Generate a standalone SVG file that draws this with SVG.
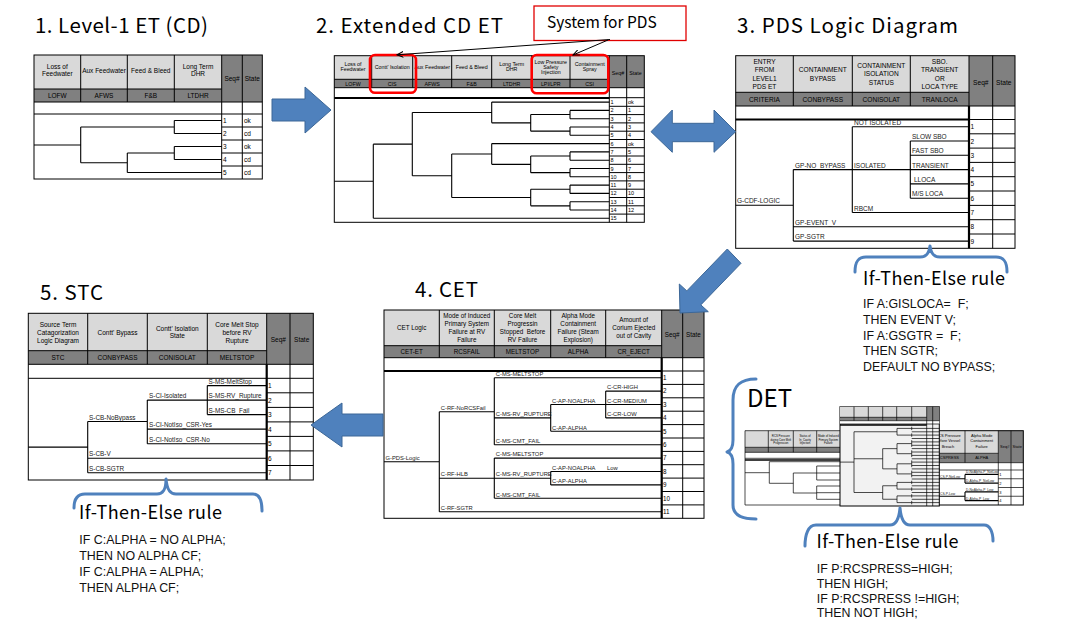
<svg xmlns="http://www.w3.org/2000/svg" width="1065" height="631" viewBox="0 0 1065 631">
<style>
.ln{stroke:#000;stroke-width:1;fill:none}
.tn{stroke:#000;stroke-width:0.7;fill:none}
.tk{stroke:#000;stroke-width:2.2;fill:none}
.tr{stroke:#000;stroke-width:1.1;fill:none}
.hl{fill:#d9d9d9}
.hd{fill:#808080}
.tt{font-family:"Liberation Sans",Arial,sans-serif;fill:#000}
.c{text-anchor:middle}
.lb{font-family:"Liberation Sans",Arial,sans-serif;fill:#1a1a1a}
.ttl{font-family:"Noto Sans CJK KR","Noto Sans",sans-serif;fill:#000}
.rule{font-family:"Liberation Sans",Arial,sans-serif;font-size:12.4px;fill:#111;white-space:pre}
.rt{font-family:"Noto Sans CJK KR","Noto Sans",sans-serif;font-size:18px;fill:#000}
.blk{fill:#4f81bd;stroke:#3c6797;stroke-width:1}
.brace{fill:none;stroke:#4f81bd;stroke-width:3;stroke-linecap:round;stroke-linejoin:round}
</style>
<defs>
<marker id="ah" viewBox="0 0 10 10" refX="9" refY="5" markerWidth="7" markerHeight="7" orient="auto"><path d="M0,1 L9,5 L0,9" fill="none" stroke="#000" stroke-width="1.5"/></marker>
</defs>

<!-- titles -->
<g id="titles">
<text class="ttl" x="35" y="33" font-size="20.5" textLength="173">1. Level-1 ET (CD)</text>
<text class="ttl" x="316" y="33" font-size="20.5" textLength="187">2. Extended CD ET</text>
<text class="ttl" x="737" y="33" font-size="20.5" textLength="221">3. PDS Logic Diagram</text>
<text class="ttl" x="40" y="300" font-size="20.5" textLength="63">5. STC</text>
<text class="ttl" x="415" y="297" font-size="20.5" textLength="63">4. CET</text>
</g>

<!-- System for PDS callout -->
<g id="callout">
<rect x="534" y="6" width="152" height="34.5" fill="#fff" stroke="#e00000" stroke-width="1.3"/>
<text class="ttl" x="547" y="28" font-size="15.5">System for PDS</text>
</g>

<!-- Panel 1 -->
<g id="panel1">
<rect x="34" y="55" width="187.7" height="34" class="hl"/>
<rect x="34" y="89" width="187.7" height="13" class="hd"/>
<rect x="221.7" y="55" width="40.6" height="47" class="hd"/>
<rect x="34" y="55" width="228.3" height="124" class="ln"/>
<path class="ln" d="M80.7 55V102M127.3 55V102M174.3 55V102M221.7 55V179M242.3 55V179M34 89H221.7M34 102H262.3M34 114H262.3M221.7 127H262.3M221.7 140H262.3M221.7 153H262.3M221.7 166H262.3"/>
<path class="tr" d="M34 145H80.7M80.7 127V162.75M80.7 127H174.3M174.3 120.5V133.5M174.3 120.5H221.7M174.3 133.5H221.7M80.7 162.75H127.3M127.3 153V172.5M127.3 153H174.3M174.3 146.5V159.5M174.3 146.5H221.7M174.3 159.5H221.7M127.3 172.5H221.7"/>
<g class="tt c" font-size="6.5">
<text x="57.3" y="69">Loss of</text><text x="57.3" y="76">Feedwater</text>
<text x="104" y="73">Aux Feedwater</text>
<text x="150.8" y="73">Feed &amp; Bleed</text>
<text x="198" y="69">Long Term</text><text x="198" y="76">DHR</text>
<text x="57.3" y="98">LOFW</text><text x="104" y="98">AFWS</text><text x="150.8" y="98">F&amp;B</text><text x="198" y="98">LTDHR</text>
<text x="232" y="81">Seq#</text><text x="252.3" y="81">State</text>
</g>
<g class="tt" font-size="6.5">
<text x="223" y="122.8">1</text><text x="223" y="135.8">2</text><text x="223" y="148.8">3</text><text x="223" y="161.8">4</text><text x="223" y="174.8">5</text>
<text x="244" y="122.8">ok</text><text x="244" y="135.8">cd</text><text x="244" y="148.8">ok</text><text x="244" y="161.8">cd</text><text x="244" y="174.8">cd</text>
</g>
</g>

<!-- Panel 2 -->
<g id="panel2">
<rect x="334.3" y="55.7" width="275" height="23.6" class="hl"/>
<rect x="334.3" y="79.3" width="275" height="8.4" class="hd"/>
<rect x="609.3" y="55.7" width="35" height="32" class="hd"/>
<rect x="334.3" y="55.7" width="310" height="166.6" class="ln"/>
<path class="ln" d="M371.7 55.7V87.7M412.7 55.7V87.7M451.7 55.7V87.7M491.7 55.7V87.7M531.7 55.7V87.7M570 55.7V87.7M609.3 55.7V222.3M626.7 55.7V222.3M334.3 79.3H609.3M334.3 87.7H644.3M609.3 97.7H644.3M609.3 106.3H644.3M609.3 114.6H644.3M609.3 122.9H644.3M609.3 131.2H644.3M609.3 139.5H644.3M609.3 147.7H644.3M609.3 156H644.3M609.3 164.3H644.3M609.3 172.6H644.3M609.3 180.9H644.3M609.3 189.2H644.3M609.3 197.5H644.3M609.3 205.8H644.3M609.3 214.1H644.3"/>
<path class="tk" d="M334.3 98H609.3"/>
<path class="tr" d="M334.3 181.2H373.3M373.3 144.15V218.3M373.3 218.3H609.3M373.3 144.15H412.3M412.3 112.5V175.8M412.3 112.5H491.7M491.7 102.1V122.85M491.7 102.1H609.3M491.7 122.85H530.7M530.7 114.55V131.15M530.7 114.55H570M570 110.4V118.7M570 110.4H609.3M570 118.7H609.3M530.7 131.15H570M570 127V135.3M570 127H609.3M570 135.3H609.3M412.3 175.8H451.7M451.7 154V197.55M451.7 154H491.7M491.7 143.6V164.35M491.7 143.6H609.3M491.7 164.35H530.7M530.7 156.05V172.65M530.7 156.05H570M570 151.9V160.2M570 151.9H609.3M570 160.2H609.3M530.7 172.65H570M570 168.5V176.8M570 168.5H609.3M570 176.8H609.3M451.7 197.55H530.7M530.7 189.25V205.85M530.7 189.25H570M570 185.1V193.4M570 185.1H609.3M570 193.4H609.3M530.7 205.85H570M570 201.7V210M570 201.7H609.3M570 210H609.3"/>
<g class="tt c" font-size="5.3">
<text x="353" y="65.5">Loss of</text><text x="353" y="71">Feedwater</text>
<text x="392.2" y="68.5">Contt' Isolation</text>
<text x="432.2" y="68.5">Aux Feedwater</text>
<text x="471.7" y="68.5">Feed &amp; Bleed</text>
<text x="511.7" y="65.5">Long Term</text><text x="511.7" y="71">DHR</text>
<text x="550.8" y="63.5">Low Pressure</text><text x="550.8" y="68.5">Safety</text><text x="550.8" y="73.5">Injection</text>
<text x="589.7" y="65.5">Containment</text><text x="589.7" y="71">Spray</text>
<text x="618" y="74.5">Seq#</text><text x="635.5" y="74.5">State</text>
<text x="353" y="85.5">LOFW</text><text x="392.2" y="85.5">CIS</text><text x="432.2" y="85.5">AFWS</text><text x="471.7" y="85.5">F&amp;B</text><text x="511.7" y="85.5">LTDHR</text><text x="550.8" y="85.5">LPI/LPR</text><text x="589.7" y="85.5">CSI</text>
</g>
<g class="tt" font-size="5.5">
<text x="610.5" y="104.1">1</text><text x="610.5" y="112.4">2</text><text x="610.5" y="120.7">3</text><text x="610.5" y="129">4</text><text x="610.5" y="137.3">5</text><text x="610.5" y="145.6">6</text><text x="610.5" y="153.9">7</text><text x="610.5" y="162.2">8</text><text x="610.5" y="170.5">9</text><text x="610.5" y="178.8">10</text><text x="610.5" y="187.1">11</text><text x="610.5" y="195.4">12</text><text x="610.5" y="203.7">13</text><text x="610.5" y="212">14</text><text x="610.5" y="220.3">15</text>
<text x="628" y="104.1">ok</text><text x="628" y="112.4">1</text><text x="628" y="120.7">2</text><text x="628" y="129">3</text><text x="628" y="137.3">4</text><text x="628" y="145.6">ok</text><text x="628" y="153.9">5</text><text x="628" y="162.2">6</text><text x="628" y="170.5">7</text><text x="628" y="178.8">8</text><text x="628" y="187.1">9</text><text x="628" y="195.4">10</text><text x="628" y="203.7">11</text><text x="628" y="212">12</text>
</g>
<rect x="370" y="55" width="46" height="37.7" rx="5" fill="none" stroke="#ff0000" stroke-width="2.6"/>
<rect x="531.7" y="55" width="76.6" height="38.3" rx="5" fill="none" stroke="#ff0000" stroke-width="2.6"/>
</g>

<!-- Panel 3 -->
<g id="panel3">
<rect x="735.7" y="55.7" width="233.3" height="36.6" class="hl"/>
<rect x="735.7" y="92.3" width="233.3" height="13.7" class="hd"/>
<rect x="969" y="55.7" width="46" height="50.3" class="hd"/>
<rect x="735.7" y="55.7" width="279.3" height="192.6" class="ln"/>
<path class="ln" d="M793.3 55.7V106M852.3 55.7V106M910.3 55.7V106M969 55.7V106M992.7 55.7V248.3M735.7 92.3H969M735.7 106H1015M969 119.5H1015M969 133.8H1015M969 148.1H1015M969 162.4H1015M969 176.7H1015M969 191H1015M969 205.4H1015M969 219.7H1015M969 234H1015"/>
<path class="tk" d="M735.7 119.5H969M969 106V248.3"/>
<path class="tr" d="M735.7 205.3H793.3M793.3 169.6V241.1M793.3 169.6H852.3M852.3 126.7V212.5M852.3 126.7H969M852.3 169.6H910.3M910.3 141V198.2M910.3 141H969M910.3 155.3H969M910.3 169.6H969M910.3 183.9H969M910.3 198.2H969M852.3 212.5H969M793.3 226.8H969M793.3 241.1H969"/>
<g class="tt c" font-size="6.6">
<text x="764.5" y="64">ENTRY</text><text x="764.5" y="72.3">FROM</text><text x="764.5" y="80.6">LEVEL1</text><text x="764.5" y="89">PDS ET</text>
<text x="822.8" y="72.3">CONTAINMENT</text><text x="822.8" y="80.6">BYPASS</text>
<text x="881.3" y="68">CONTAINMENT</text><text x="881.3" y="76.3">ISOLATION</text><text x="881.3" y="84.6">STATUS</text>
<text x="939.7" y="64">SBO.</text><text x="939.7" y="72.3">TRANSIENT</text><text x="939.7" y="80.6">OR</text><text x="939.7" y="89">LOCA TYPE</text>
<text x="980.8" y="84.5">Seq#</text><text x="1003.8" y="84.5">State</text>
<text x="764.5" y="101.6">CRITERIA</text><text x="822.8" y="101.6">CONBYPASS</text><text x="881.3" y="101.6">CONISOLAT</text><text x="939.7" y="101.6">TRANLOCA</text>
</g>
<g class="lb" font-size="6.5">
<text x="737" y="203.3">G-CDF-LOGIC</text>
<text x="795" y="167.6">GP-NO_BYPASS</text>
<text x="854" y="124.9">NOT ISOLATED</text>
<text x="854" y="167.6">ISOLATED</text>
<text x="912" y="139">SLOW SBO</text>
<text x="912" y="153.3">FAST SBO</text>
<text x="912" y="167.6">TRANSIENT</text>
<text x="914" y="181.9">LLOCA</text>
<text x="912" y="196.2">M/S LOCA</text>
<text x="854" y="210.5">RBCM</text>
<text x="795" y="224.8">GP-EVENT_V</text>
<text x="795" y="239.1">GP-SGTR</text>
</g>
<g class="tt" font-size="6.5">
<text x="970.5" y="129.2">1</text><text x="970.5" y="143.5">2</text><text x="970.5" y="157.8">3</text><text x="970.5" y="172.1">4</text><text x="970.5" y="186.4">5</text><text x="970.5" y="200.7">6</text><text x="970.5" y="215">7</text><text x="970.5" y="229.3">8</text><text x="970.5" y="243.6">9</text>
</g>
</g>

<!-- Panel 5 -->
<g id="panel5">
<rect x="28.3" y="313.3" width="238.4" height="37.4" class="hl"/>
<rect x="28.3" y="350.7" width="238.4" height="13.6" class="hd"/>
<rect x="266.7" y="313.3" width="46.6" height="51" class="hd"/>
<rect x="28.3" y="313.3" width="285" height="166.7" class="ln"/>
<path class="ln" d="M87.7 313.3V364.3M147.3 313.3V364.3M207.3 313.3V364.3M266.7 313.3V364.3M290 313.3V480M28.3 350.7H266.7M28.3 364.3H313.3M28.3 378.3H313.3M266.7 392.8H313.3M266.7 407.4H313.3M266.7 421.9H313.3M266.7 436.4H313.3M266.7 450.9H313.3M266.7 465.5H313.3"/>
<path class="tk" d="M266.7 364.3V480"/>
<path class="tr" d="M28.3 447.1H87.7M87.7 421.5V472.7M87.7 421.5H147.3M147.3 400.1V443.7M147.3 400.1H207.3M207.3 385.6V414.6M207.3 385.6H266.7M207.3 400.1H266.7M207.3 414.6H266.7M147.3 429.1H266.7M147.3 443.7H266.7M87.7 458.2H266.7M87.7 472.7H266.7"/>
<g class="tt c" font-size="6.5">
<text x="58" y="327.3">Source Term</text><text x="58" y="335">Catagorization</text><text x="58" y="342.5">Logic Diagram</text>
<text x="117.5" y="335">Contt' Bypass</text>
<text x="177.3" y="330.6">Contt' Isolation</text><text x="177.3" y="338.3">State</text>
<text x="237" y="327.3">Core Melt Stop</text><text x="237" y="335">before RV</text><text x="237" y="342.5">Rupture</text>
<text x="278.3" y="341.5">Seq#</text><text x="301.7" y="341.5">State</text>
<text x="58" y="360">STC</text><text x="117.5" y="360">CONBYPASS</text><text x="177.3" y="360">CONISOLAT</text><text x="237" y="360">MELTSTOP</text>
</g>
<g class="lb" font-size="6.4">
<text x="208.5" y="383.8">S-MS-MeltStop</text>
<text x="208.5" y="398.3">S-MS-RV_Rupture</text>
<text x="208.5" y="412.8">S-MS-CB_Fail</text>
<text x="149" y="398.3">S-CI-Isolated</text>
<text x="89" y="419.7">S-CB-NoBypass</text>
<text x="149" y="427.3">S-CI-NotIso_CSR-Yes</text>
<text x="149" y="441.9">S-CI-NotIso_CSR-No</text>
<text x="89" y="456.4">S-CB-V</text>
<text x="89" y="470.9">S-CB-SGTR</text>
</g>
<g class="tt" font-size="6.5">
<text x="268" y="388">1</text><text x="268" y="402.5">2</text><text x="268" y="417">3</text><text x="268" y="431.5">4</text><text x="268" y="446">5</text><text x="268" y="460.5">6</text><text x="268" y="475">7</text>
</g>
</g>

<!-- Panel 4 -->
<g id="panel4">
<rect x="384" y="310" width="277.7" height="35.7" class="hl"/>
<rect x="384" y="345.7" width="277.7" height="12" class="hd"/>
<rect x="661.7" y="310" width="42.3" height="47.7" class="hd"/>
<rect x="384" y="310" width="320" height="208.3" class="ln"/>
<path class="ln" d="M439.3 310V357.7M494.3 310V357.7M550.7 310V357.7M605.7 310V357.7M661.7 310V357.7M682.7 310V518.3M384 345.7H661.7M384 357.7H704M661.7 371H704M661.7 384.4H704M661.7 397.8H704M661.7 411.2H704M661.7 424.6H704M661.7 438H704M661.7 451.4H704M661.7 464.7H704M661.7 478.1H704M661.7 491.5H704M661.7 504.9H704"/>
<path class="tk" d="M384 371H661.7M661.7 357.7V518.3"/>
<path class="tr" d="M384 461.7H439.3M439.3 411.7V511.7M439.3 411.7H494.3M494.3 377.7V444.7M494.3 377.7H661.7M494.3 417.9H550.7M550.7 404.5V431.3M550.7 404.5H605.7M605.7 391.1V417.9M605.7 391.1H661.7M605.7 404.5H661.7M605.7 417.9H661.7M550.7 431.3H661.7M494.3 444.7H661.7M439.3 478.2H494.3M494.3 458.1V498.3M494.3 458.1H661.7M494.3 478.2H550.7M550.7 471.5V484.9M550.7 471.5H661.7M550.7 484.9H661.7M494.3 498.3H661.7M439.3 511.7H661.7"/>
<g class="tt c" font-size="6.3">
<text x="411.7" y="330">CET Logic</text>
<text x="466.8" y="318">Mode of Induced</text><text x="466.8" y="325.8">Primary System</text><text x="466.8" y="333.8">Failure at RV</text><text x="466.8" y="341.5">Failure</text>
<text x="522.5" y="318">Core Melt</text><text x="522.5" y="325.8">Progressin</text><text x="522.5" y="333.8" style="white-space:pre">Stopped  Before</text><text x="522.5" y="341.5">RV Failure</text>
<text x="578.2" y="318">Alpha Mode</text><text x="578.2" y="325.8">Containment</text><text x="578.2" y="333.8">Failure (Steam</text><text x="578.2" y="341.5">Explosion)</text>
<text x="633.7" y="322">Amount of</text><text x="633.7" y="330">Corium Ejected</text><text x="633.7" y="338">out of Cavity</text>
<text x="672.2" y="336.5">Seq#</text><text x="693.3" y="336.5">State</text>
<text x="411.7" y="354">CET-ET</text><text x="466.8" y="354">RCSFAIL</text><text x="522.5" y="354">MELTSTOP</text><text x="578.2" y="354">ALPHA</text><text x="633.7" y="354">CR_EJECT</text>
</g>
<g class="lb" font-size="5.8">
<text x="385.5" y="459.9">G-PDS-Logic</text>
<text x="440.8" y="409.9">C-RF-NoRCSFail</text>
<text x="495.8" y="375.9">C-MS-MELTSTOP</text>
<text x="495.8" y="416.1">C-MS-RV_RUPTURE</text>
<text x="552" y="402.7">C-AP-NOALPHA</text>
<text x="607" y="389.3">C-CR-HIGH</text>
<text x="607" y="402.7">C-CR-MEDIUM</text>
<text x="607" y="416.1">C-CR-LOW</text>
<text x="552" y="429.5">C-AP-ALPHA</text>
<text x="495.8" y="442.9">C-MS-CMT_FAIL</text>
<text x="440.8" y="476.4">C-RF-HLB</text>
<text x="495.8" y="456.3">C-MS-MELTSTOP</text>
<text x="495.8" y="476.4">C-MS-RV_RUPTURE</text>
<text x="552" y="469.7">C-AP-NOALPHA</text>
<text x="607" y="469.7">Low</text>
<text x="552" y="483.1">C-AP-ALPHA</text>
<text x="495.8" y="496.5">C-MS-CMT_FAIL</text>
<text x="440.8" y="509.9">C-RF-SGTR</text>
</g>
<g class="tt" font-size="6.3">
<text x="663" y="380">1</text><text x="663" y="393.4">2</text><text x="663" y="406.8">3</text><text x="663" y="420.2">4</text><text x="663" y="433.6">5</text><text x="663" y="447">6</text><text x="663" y="460.4">7</text><text x="663" y="473.8">8</text><text x="663" y="487.2">9</text><text x="663" y="500.6">10</text><text x="663" y="514">11</text>
</g>
</g>

<!-- DET -->
<g id="det">
<text class="ttl" x="747" y="407" font-size="24">DET</text>
<!-- left table -->
<rect x="745" y="430.7" width="95" height="16.6" class="hl"/>
<rect x="745" y="447.3" width="95" height="5" class="hd"/>
<path class="tn" d="M745 430.7H840M745 430.7V505M745 505H860M768.3 430.7V452.3M793.3 430.7V452.3M816.7 430.7V452.3M745 447.3H840M745 452.3H840M745 458.3H840"/>
<path d="M745 460H840" stroke="#000" stroke-width="1.5"/>
<path class="tn" d="M745 472.7H769.3M769.3 461.7V483.3M769.3 461.7H840M769.3 483.3H793.3M793.3 473V493M793.3 473H816.7M816.7 466V480M816.7 466H840M816.7 473H840M816.7 480H840M793.3 493H816.7M816.7 486V499.3M816.7 486H840M816.7 492.7H840M816.7 499.3H840"/>
<g class="tt c" font-size="2.8">
<text x="780.8" y="437">RCS Pressure</text><text x="780.8" y="440.5">during Core Melt</text><text x="780.8" y="444">Progression</text>
<text x="805" y="437">Status of</text><text x="805" y="440.5">In_Cavity</text><text x="805" y="444">Injection</text>
<text x="828.3" y="437">Mode of Induced</text><text x="828.3" y="440.5">Primary System</text><text x="828.3" y="444">Failure</text>
</g>
<!-- right table -->
<rect x="925" y="430.7" width="73.3" height="22.6" class="hl"/>
<rect x="925" y="453.3" width="73.3" height="9.4" class="hd"/>
<rect x="998.3" y="430.7" width="25" height="32" class="hd"/>
<rect x="925" y="430.7" width="98.3" height="74.3" class="ln"/>
<path class="tn" d="M965 430.7V462.7M998.3 430.7V505M1011 430.7V505M925 453.3H998.3M925 462.7H1023.3M925 470H1023.3M998.3 478.75H1023.3M998.3 487.5H1023.3M998.3 496.25H1023.3"/>
<path class="tr" d="M925 478.75H965M965 474.4V483.1M965 474.4H998.3M965 483.1H998.3M925 496.25H965M965 491.9V500.6M965 491.9H998.3M965 500.6H998.3"/>
<g class="tt c" font-size="4">
<text x="948" y="436.5">RCS Pressure</text><text x="948" y="442">before Vessel</text><text x="948" y="447.5">Breach</text>
<text x="981.7" y="436.5">Alpha Mode</text><text x="981.7" y="442">Containment</text><text x="981.7" y="447.5">Failure</text>
<text x="1004.7" y="448">Seq#</text><text x="1017.2" y="448">State</text>
<text x="948" y="459.3">RCSPRESS</text><text x="981.7" y="459.3">ALPHA</text>
</g>
<g class="lb" font-size="3.3">
<text x="940" y="477.6">CS-P-NotLow</text>
<text x="940" y="495.1">CS-P-Low</text>
<text x="966" y="473.4">D-NoAlpha-P_NotLow</text>
<text x="966" y="482.1">D-Alpha-P_NotLow</text>
<text x="966" y="490.9">D-NoAlpha-P_Low</text>
<text x="966" y="499.6">D-Alpha-P_Low</text>
</g>
<g class="tt" font-size="4">
<text x="999.3" y="476">1</text><text x="999.3" y="484.8">2</text><text x="999.3" y="493.5">3</text><text x="999.3" y="502.3">4</text>
</g>
<!-- center table -->
<rect x="840" y="406.7" width="99.3" height="99.3" fill="#f2f2f2" stroke="#000" stroke-width="1"/>
<rect x="840" y="406.7" width="86.7" height="10.6" class="hl"/>
<rect x="840" y="417.3" width="86.7" height="3.4" class="hd"/>
<rect x="926.7" y="406.7" width="12.6" height="14" class="hd"/>
<rect x="840" y="420.7" width="99.3" height="3.3" fill="#fff"/>
<path class="tn" d="M854 406.7V420.7M868.3 406.7V420.7M882.7 406.7V420.7M896.7 406.7V420.7M911.7 406.7V420.7M926.7 406.7V506M932.7 406.7V506M840 417.3H926.7M840 420.7H939.3M840 424H939.3M911.7 428.4H939.3M911.7 431.8H939.3M911.7 435.1H939.3M911.7 438.5H939.3M911.7 441.9H939.3M911.7 445.3H939.3M911.7 448.6H939.3M911.7 452H939.3M911.7 455.4H939.3M911.7 458.8H939.3M911.7 462.1H939.3M911.7 465.5H939.3M911.7 468.9H939.3M911.7 472.3H939.3M911.7 475.6H939.3M911.7 479H939.3M911.7 482.4H939.3M911.7 485.8H939.3M911.7 489.1H939.3M911.7 492.5H939.3M911.7 495.9H939.3M911.7 499.3H939.3M911.7 502.6H939.3"/>
<path d="M840 425H926.7" stroke="#000" stroke-width="1.3"/>
<path class="tn" d="M840 462.1H854M854 431.75V492.5M854 431.75H897M897 428.4V435.1M897 428.4H911.7M911.7 426.7V430.1M897 435.1H911.7M911.7 433.4V436.8M854 458.75H882.7M882.7 448.65V468.85M882.7 448.65H897M897 443.6V453.7M897 443.6H911.7M911.7 440.2V446.9M897 453.7H911.7M911.7 450.3V457.1M882.7 468.85H897M897 463.8V473.9M897 463.8H911.7M911.7 460.4V467.2M897 473.9H911.7M911.7 470.6V477.3M854 492.5H882.7M882.7 485.75V499.25M882.7 485.75H897M897 482.4V489.1M897 482.4H911.7M911.7 480.7V484.1M897 489.1H911.7M911.7 487.4V490.8M882.7 499.25H897M897 495.9V502.6M897 495.9H911.7M911.7 494.2V497.6M897 502.6H911.7M911.7 500.9V504.3"/>
</g>

<!-- connectors -->
<g id="connectors">
<path d="M610 39.5L397 54.8" stroke="#000" stroke-width="1" fill="none" marker-end="url(#ah)"/>
<path d="M608 40L573 55" stroke="#000" stroke-width="1" fill="none" marker-end="url(#ah)"/>
<polygon class="blk" points="272,99 305,99 305,87 331,110 305,133 305,121 272,121"/>
<polygon class="blk" points="651,131.7 672.3,110 672.3,123.3 714,123.3 714,110 735.7,131.7 714,152.3 714,141.7 672.3,141.7 672.3,152.3"/>
<polygon class="blk" points="727.3,249 686.8,290.9 679.3,284 680,313 708.3,311.7 700.8,304.9 741,263.3"/>
<polygon class="blk" points="311,425 342,403 342,414 383,414 383,436 342,436 342,447"/>
</g>

<!-- braces -->
<g id="braces">
<path class="brace" d="M855 272C855 262 858 257 866 257L920 257C926 257 929 254 930 246C931 254 934 257 940 257L996 257C1004 257 1007 262 1007 272"/>
<path class="brace" d="M74 508C74 499 77 494 85 494L157 494C163 494 166 490 166 479C167 490 170 494 176 494L253 494C259 494 262 499 262 511"/>
<path class="brace" d="M805 546C805 535 808 525 816 525L890 525C896 525 899 519 900 508C901 519 904 525 910 525L984 525C990 525 993 532 993 541"/>
<path class="brace" d="M756 379C740 379 733 386 733 400L733 440C733 448 731 451 727 452C731 453 733 456 733 464L733 505C733 514 740 519 756 519"/>
</g>

<!-- rules -->
<g id="rule3">
<text class="rt" x="863" y="285" textLength="142">If-Then-Else rule</text>
<text class="rule" x="863" y="308.3">IF A:GISLOCA=  F;</text>
<text class="rule" x="863" y="324">THEN EVENT V;</text>
<text class="rule" x="863" y="339.7">IF A:GSGTR =  F;</text>
<text class="rule" x="863" y="355.4">THEN SGTR;</text>
<text class="rule" x="863" y="371">DEFAULT NO BYPASS;</text>
</g>
<g id="rule5">
<text class="rt" x="79" y="519.3" textLength="143">If-Then-Else rule</text>
<text class="rule" x="79.3" y="544">IF C:ALPHA = NO ALPHA;</text>
<text class="rule" x="79.3" y="560">THEN NO ALPHA CF;</text>
<text class="rule" x="79.3" y="575.8">IF C:ALPHA = ALPHA;</text>
<text class="rule" x="79.3" y="591.7">THEN ALPHA CF;</text>
</g>
<g id="ruledet">
<text class="rt" x="816.5" y="548.3" textLength="142">If-Then-Else rule</text>
<text class="rule" x="816.7" y="572.7">IF P:RCSPRESS=HIGH;</text>
<text class="rule" x="816.7" y="587.6">THEN HIGH;</text>
<text class="rule" x="816.7" y="602.5">IF P:RCSPRESS !=HIGH;</text>
<text class="rule" x="816.7" y="617.3">THEN NOT HIGH;</text>
</g>
</svg>
